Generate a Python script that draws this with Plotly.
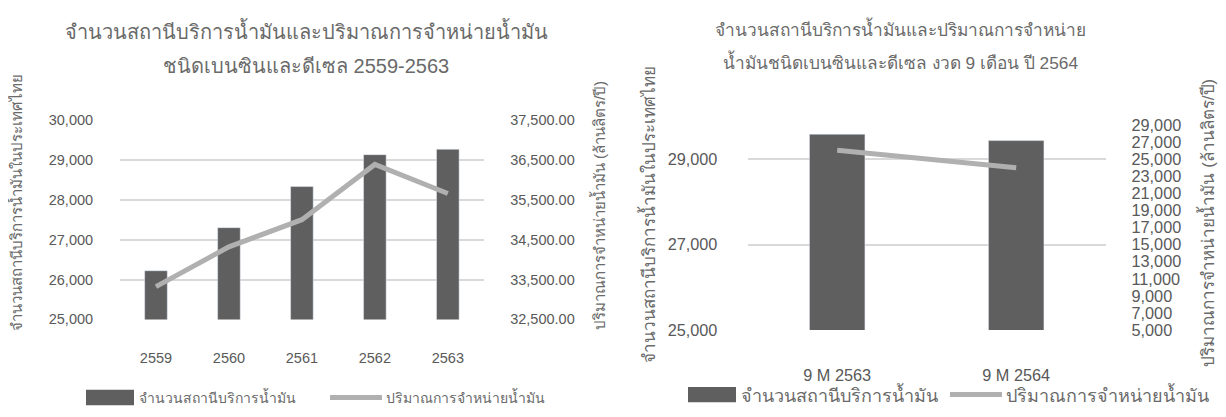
import plotly.graph_objects as go

# page body has an 8px margin, so the figure is drawn 8px smaller and laid out in page pixels
W, H = 1226, 417
OFF = 8
FW, FH = W - OFF, H - OFF

# left chart: annual
years = ["2559", "2560", "2561", "2562", "2563"]
stations = [26220, 27300, 28330, 29130, 29265]
volume = [33320, 34320, 35000, 36385, 35655]

# right chart: 9 months
periods = ["9 M 2563", "9 M 2564"]
stations_9m = [29585, 29435]
volume_9m = [26050, 23990]

BAR_NAME = "จำนวนสถานีบริการน้ำมัน"
LINE_NAME = "ปริมาณการจำหน่ายน้ำมัน"
Y_LEFT_TITLE = "จำนวนสถานีบริการน้ำมันในประเทศไทย"
Y_RIGHT_TITLE = "ปริมาณการจำหน่ายน้ำมัน (ล้านลิตร/ปี)"

BAR_COLOR = "#5f5f5f"
LINE_COLOR = "#b0b0b0"
GRID = "#d9d9d9"
TEXT = "#595959"
THAI = "#6a6a6a"
FONT = "Liberation Sans, Arial, sans-serif"


def px(x):
    return (x - OFF) / FW


def py(y):
    return (H - y) / FH


def _text(x, y, s, size, anchor="center", angle=0, color=THAI):
    return dict(x=px(x), y=py(y), xref="paper", yref="paper", text=s, showarrow=False,
                xanchor=anchor, yanchor="middle", textangle=angle,
                font=dict(size=size, color=color, family=FONT))


def _legend(x0, y, size, line_x, line_w=52):
    shapes = [
        dict(type="rect", xref="paper", yref="paper", x0=px(x0), x1=px(x0 + 48),
             y0=py(y + 8), y1=py(y - 8), fillcolor=BAR_COLOR, line=dict(width=0)),
        dict(type="line", xref="paper", yref="paper", x0=px(line_x), x1=px(line_x + line_w),
             y0=py(y), y1=py(y), line=dict(color=LINE_COLOR, width=5)),
    ]
    notes = [_text(x0 + 51, y, BAR_NAME, size, "left"),
             _text(line_x + line_w + 2, y, LINE_NAME, size, "left")]
    return shapes, notes


fig = go.Figure()
fig.add_trace(go.Bar(x=years, y=stations, marker=dict(color=BAR_COLOR), xaxis="x", yaxis="y",
                     showlegend=False))
fig.add_trace(go.Scatter(x=years, y=volume, mode="lines", line=dict(color=LINE_COLOR, width=5),
                         xaxis="x", yaxis="y2", showlegend=False))
fig.add_trace(go.Bar(x=periods, y=stations_9m, marker=dict(color=BAR_COLOR), xaxis="x2", yaxis="y3",
                     showlegend=False))
fig.add_trace(go.Scatter(x=periods, y=volume_9m, mode="lines", line=dict(color=LINE_COLOR, width=5),
                         xaxis="x2", yaxis="y4", showlegend=False))

tick_l = dict(size=14.5, color=TEXT, family=FONT)
tick_r = dict(size=16.3, color=TEXT, family=FONT)
hidden = dict(ticks="outside", tickcolor="rgba(0,0,0,0)", showline=False, zeroline=False)

fig.update_layout(
    width=FW, height=FH, margin=dict(l=0, r=0, t=0, b=0),
    plot_bgcolor="white", paper_bgcolor="white", bargap=0.69,
    xaxis=dict(domain=[px(119.5), px(484.3)], anchor="y", tickfont=tick_l, ticklen=25, **hidden),
    yaxis=dict(domain=[py(324.3), py(115.7)], range=[25000, 30000], dtick=1000, tickformat=",",
               gridcolor=GRID, gridwidth=1.5, tickfont=tick_l, ticklen=22.5, **hidden),
    yaxis2=dict(overlaying="y", side="right", range=[32500, 37500], tick0=32500, dtick=1000,
                tickformat=",.2f", showgrid=False, tickfont=tick_l, ticklen=22, **hidden),
    xaxis2=dict(domain=[px(747.7), px(1105.7)], anchor="y3", tickfont=tick_r, ticklen=30, **hidden),
    yaxis3=dict(domain=[py(335.5), py(121)], anchor="x2", range=[25000, 29800], tick0=25000, dtick=2000,
                tickformat=",", gridcolor=GRID, gridwidth=1.5, tickfont=tick_r, ticklen=26, **hidden),
    yaxis4=dict(overlaying="y3", anchor="x2", side="right", range=[5000, 29000], tick0=5000, dtick=2000,
                tickformat=",", showgrid=False, tickfont=tick_r, ticklen=21.5, **hidden),
)

notes = [
    _text(306, 22, "จำนวนสถานีบริการน้ำมันและปริมาณการจำหน่ายน้ำมัน", 20),
    _text(306, 59, "ชนิดเบนซินและดีเซล 2559-2563", 20),
    _text(900, 20, "จำนวนสถานีบริการน้ำมันและปริมาณการจำหน่าย", 17.3),
    _text(900, 55, "น้ำมันชนิดเบนซินและดีเซล งวด 9 เดือน ปี 2564", 17.3),
    _text(15, 203, Y_LEFT_TITLE, 15, angle=-90),
    _text(598, 206, Y_RIGHT_TITLE, 15, angle=-90),
    _text(648, 215, Y_LEFT_TITLE, 17, angle=-90),
    _text(1207, 223, Y_RIGHT_TITLE, 17, angle=-90),
]
s1, n1 = _legend(86, 406, 14, 330)
s2, n2 = _legend(688, 403, 18, 950)
fig.update_layout(annotations=notes + n1 + n2, shapes=s1 + s2)

fig.write_html("out.html")
